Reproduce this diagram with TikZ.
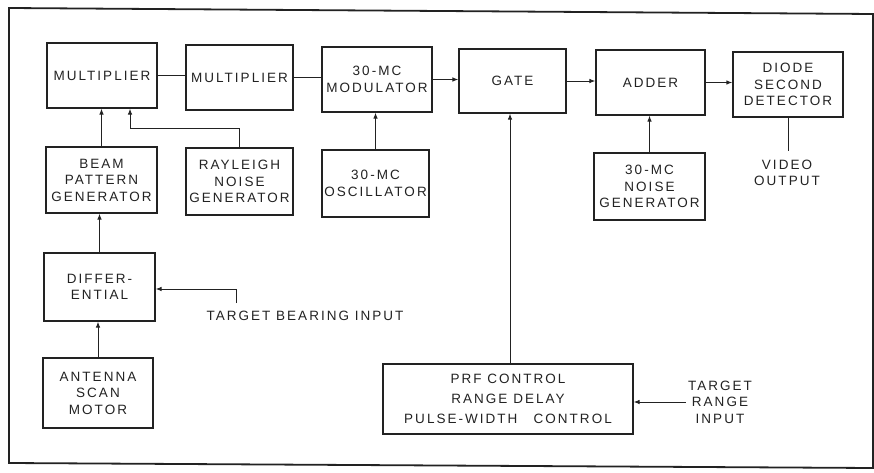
\documentclass[tikz,border=0pt]{standalone}
\usepackage{fontspec}
\setmainfont{Liberation Sans}[LetterSpace=15]
\usetikzlibrary{arrows.meta}
\definecolor{ink}{HTML}{222222}
\tikzset{
  blk/.style={draw=ink, line width=1.2pt, align=center, inner sep=2pt, text=ink},
  lbl/.style={align=center, inner sep=2pt, text=ink},
  wire/.style={draw=ink, line width=0.9pt},
  arr/.style={wire, -{Latex[length=6pt,width=4.5pt]}},
  frame/.style={draw=ink, line width=1.8pt}
}
\begin{document}
\begin{tikzpicture}[x=1pt,y=-1pt, font=\fontsize{13.5}{16.5}\selectfont]
\useasboundingbox (0,0) rectangle (874,473);
\draw[frame] (9,8) -- (873,14) -- (873,468) -- (9,463) -- cycle;

\node[blk, minimum width=110pt, minimum height=65pt] (m1) at (102,75.5) {MULTIPLIER};
\node[blk, minimum width=107pt, minimum height=65pt] (m2) at (239.5,77.5) {MULTIPLIER};
\node[blk, minimum width=110pt, minimum height=65pt] (mod) at (377,79.5) {30-MC\\MODULATOR};
\node[blk, minimum width=107pt, minimum height=64pt] (gate) at (512.5,81) {GATE};
\node[blk, minimum width=109pt, minimum height=65pt] (add) at (650.5,82.5) {ADDER};
\node[blk, minimum width=110pt, minimum height=65pt] (det) at (788,84.5) {DIODE\\SECOND\\DETECTOR};

\node[blk, minimum width=111pt, minimum height=66pt] (beam) at (101.5,180) {BEAM\\PATTERN\\GENERATOR};
\node[blk, minimum width=107pt, minimum height=67pt] (ray) at (239.5,181.5) {RAYLEIGH\\NOISE\\GENERATOR};
\node[blk, minimum width=107pt, minimum height=67pt] (osc) at (375.5,183.5) {30-MC\\OSCILLATOR};
\node[blk, minimum width=111pt, minimum height=67pt] (noise) at (649.5,186.5) {30-MC\\NOISE\\GENERATOR};

\node[blk, minimum width=111pt, minimum height=68pt] (diff) at (99.5,287) {DIFFER-\\ENTIAL};
\node[blk, minimum width=110pt, minimum height=70pt] (ant) at (98,393) {ANTENNA\\SCAN\\MOTOR};
\node[blk, minimum width=250pt, minimum height=70pt, font=\fontsize{13.5}{20}\selectfont] (prf) at (508,399) {PRF CONTROL\\RANGE DELAY\\PULSE-WIDTH\hspace{1.2em}CONTROL};

\node[lbl] (vid) at (787,173) {VIDEO\\OUTPUT};
\node[lbl] (tb) at (305,316) {TARGET BEARING INPUT};
\node[lbl] (tr) at (720,402) {TARGET\\RANGE\\INPUT};

\coordinate (ve) at (788,151);
\coordinate (rj) at (130,128);
\coordinate (tbs) at (236,303);

\draw[wire] (m1.east) -- (m1.east -| m2.west);
\draw[wire] (m2.east) -- (m2.east -| mod.west);
\draw[arr] (mod.east) -- (mod.east -| gate.west);
\draw[arr] (gate.east) -- (gate.east -| add.west);
\draw[arr, line width=1.3pt] (add.east) -- (add.east -| det.west);
\draw[wire] (det.south) -- (ve);

\draw[arr] (beam.north) -- (beam.north |- m1.south);
\draw[arr] (ray.north) |- (rj) -- (rj |- m1.south);
\draw[arr] (osc.north) -- (osc.north |- mod.south);
\draw[arr] (noise.north) -- (noise.north |- add.south);
\draw[arr] (diff.north) -- (diff.north |- beam.south);
\draw[arr] (ant.north) -- (ant.north |- diff.south);
\draw[arr] (tbs) |- ([yshift=-2pt]diff.east);
\draw[arr] ([xshift=2pt]prf.north) -- ([xshift=2pt]prf.north |- gate.south);
\draw[arr] (tr.west) -- (tr.west -| prf.east);
\end{tikzpicture}
\end{document}
